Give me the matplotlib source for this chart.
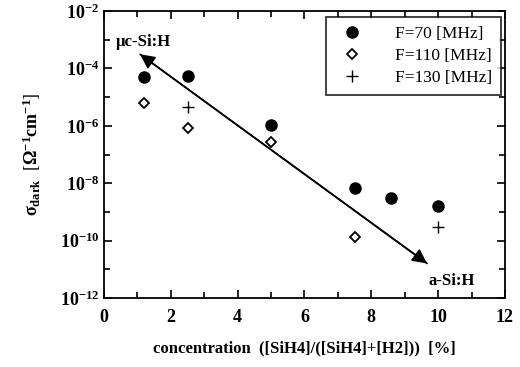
import matplotlib
matplotlib.use("Agg")
import matplotlib.pyplot as plt
from matplotlib.ticker import FixedLocator, NullFormatter

plt.rcParams['font.family'] = ['Liberation Serif', 'DejaVu Serif']
plt.rcParams['mathtext.fontset'] = 'custom'
plt.rcParams['mathtext.rm'] = 'Liberation Serif:bold'
plt.rcParams['mathtext.bf'] = 'Liberation Serif:bold'
plt.rcParams['mathtext.it'] = 'Liberation Serif:bold:italic'

x70 = [1.2, 2.5, 5.0, 7.5, 8.6, 10.0]
y70 = [5e-5, 5.5e-5, 1.1e-6, 7e-9, 3e-9, 1.6e-9]
x110 = [1.2, 2.5, 5.0, 7.5]
y110 = [6e-6, 8.5e-7, 2.8e-7, 1.3e-10]
x130 = [2.5, 10.0]
y130 = [4.7e-6, 2.9e-10]

xticks = [0, 2, 4, 6, 8, 10, 12]
yticks_exp = [-12, -10, -8, -6, -4, -2]

fig = plt.figure(figsize=(5.2, 3.67), dpi=100)
ax = fig.add_axes([0.2, 0.188, 0.771, 0.782])
ax.set_yscale('log')
ax.set_xlim(0, 12)
ax.set_ylim(1e-12, 1e-2)

ax.plot(x70, y70, 'o', color='black', markersize=8, label='F=70 [MHz]')
ax.plot(x110, y110, 'D', mfc='white', mec='black', mew=1.3, markersize=5.5, label='F=110 [MHz]')
ax.plot(x130, y130, '+', color='black', markersize=9, mew=1.0, label='F=130 [MHz]')

ax.annotate('', xy=(1.08, 3.1e-4), xytext=(9.67, 1.6e-11),
            arrowprops=dict(arrowstyle='-|>', color='black', lw=1.2, mutation_scale=22, shrinkA=0, shrinkB=0))
ax.annotate('', xy=(9.67, 1.6e-11), xytext=(1.08, 3.1e-4),
            arrowprops=dict(arrowstyle='-|>', color='black', lw=1.2, mutation_scale=22, shrinkA=0, shrinkB=0))
ax.text(0.35, 8e-4, 'μc-Si:H', fontsize=12, fontweight='bold', va='center', ha='left')
ax.text(11.1, 4e-12, 'a-Si:H', fontsize=12, fontweight='bold', va='center', ha='right')

ax.xaxis.set_major_locator(FixedLocator(xticks))
ax.xaxis.set_minor_locator(FixedLocator([1, 3, 5, 7, 9, 11]))
ax.set_xticklabels([str(t) for t in xticks], fontsize=13, fontweight='bold')
ax.yaxis.set_major_locator(FixedLocator([10.0**e for e in yticks_exp]))
ax.yaxis.set_minor_locator(FixedLocator([10.0**e for e in range(-11, -2, 2)]))
ax.yaxis.set_minor_formatter(NullFormatter())
ax.set_yticklabels([r'$\mathbf{10^{%d}}$' % e for e in yticks_exp], fontsize=13)

ax.tick_params(which='both', direction='in', top=True, right=True, width=1.2)
ax.tick_params(which='major', length=6)
ax.tick_params(which='minor', length=4)
ax.tick_params(axis='x', pad=8)
for s in ax.spines.values():
    s.set_linewidth(1.3)

ax.set_xlabel('concentration  ([SiH4]/([SiH4]+[H2]))  [%]', fontsize=12, fontweight='bold', labelpad=10)
ax.set_ylabel(r'$\mathbf{\sigma_{dark}}$  [$\mathbf{\Omega^{-1}cm^{-1}}$]', fontsize=13, labelpad=12)

leg = ax.legend(loc='upper right', fontsize=12.5, frameon=True, fancybox=False, edgecolor='black',
                handletextpad=1.5, borderpad=0.5, labelspacing=0.35, borderaxespad=0,
                bbox_to_anchor=(0.99, 0.98))
leg.get_frame().set_linewidth(1.3)

fig.savefig('out.png', dpi=100)
